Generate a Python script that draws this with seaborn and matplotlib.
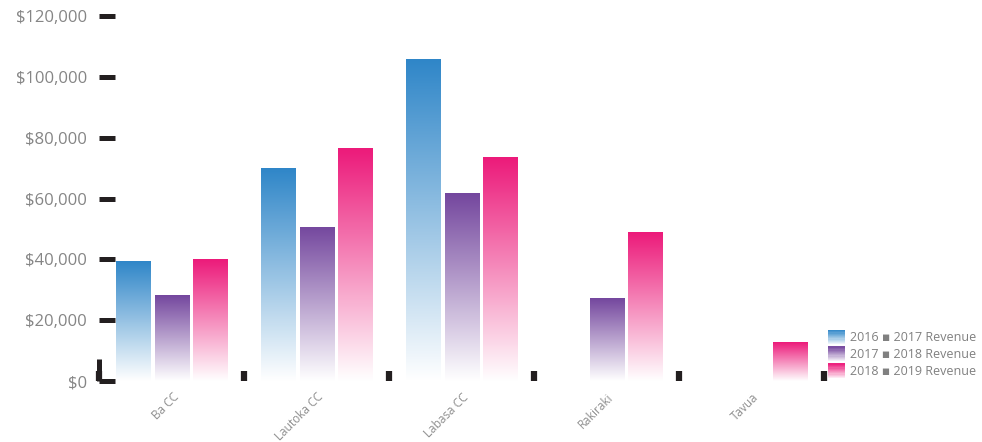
import numpy as np
import pandas as pd
import matplotlib
matplotlib.use("Agg")
import matplotlib.pyplot as plt
import seaborn as sns
from matplotlib.colors import LinearSegmentedColormap, to_rgb
from matplotlib.legend_handler import HandlerBase
from matplotlib.patches import Rectangle
from matplotlib.ticker import FuncFormatter

#Data
centres = ['Ba CC', 'Lautoka CC', 'Labasa CC', 'Rakiraki', 'Tavua']
rev_2016_17 = [39500, 70000, 106000, 0, 0]
rev_2017_18 = [28300, 50700, 61800, 27300, 0]
rev_2018_19 = [40100, 76600, 73700, 49000, 12800]
periods = ['2016 \u25aa 2017 Revenue', '2017 \u25aa 2018 Revenue', '2018 \u25aa 2019 Revenue']
colours = ['#2f86c8', '#74479e', '#ec1a7a']

df = pd.DataFrame({
    'centre': centres * 3,
    'period': [periods[0]] * 5 + [periods[1]] * 5 + [periods[2]] * 5,
    'revenue': rev_2016_17 + rev_2017_18 + rev_2018_19,
})

sns.set_theme(style='white')
plt.rcParams['font.family'] = ['Open Sans', 'DejaVu Sans']

fig = plt.figure(figsize=(9.82, 4.42), dpi=100)
ax = fig.add_axes([0.1013, 0.138, 0.7383, 0.8247])

sns.barplot(data=df, x='centre', y='revenue', hue='period', hue_order=periods,
            palette=colours, width=0.8, gap=0.1, ax=ax, legend=False)

#Gradient fill: full colour at the top fading to white at the bottom
cmaps = [LinearSegmentedColormap.from_list('g%d' % i, ['#ffffff', c]) for i, c in enumerate(colours)]
grad = np.linspace(0.02, 1, 256).reshape(-1, 1)
for i, container in enumerate(ax.containers):
    for bar in container:
        h = bar.get_height()
        if not h:
            continue
        x0 = bar.get_x()
        w = bar.get_width()
        im = ax.imshow(grad, cmap=cmaps[i], aspect='auto', origin='lower',
                       extent=[x0, x0 + w, 0, h], zorder=2, interpolation='bilinear')
        im.set_clip_path(bar)
        bar.set_facecolor('none')
        bar.set_edgecolor('none')

ax.set_xlim(-0.5, 4.5)
ax.set_ylim(0, 120000)
ax.set_yticks(np.arange(0, 120001, 20000))
ax.yaxis.set_major_formatter(FuncFormatter(lambda v, p: '${:,.0f}'.format(v)))
for s in ax.spines.values():
    s.set_visible(False)

ax.tick_params(axis='y', direction='in', length=11.5, width=3.6, color='#231f20',
               labelsize=12, labelcolor='#858585', pad=9, left=True)
ax.tick_params(axis='x', which='major', length=0, labelsize=8.5, labelcolor='#8f8f8f', pad=7)
ax.set_xticks(np.arange(-0.5, 5, 1), minor=True)
ax.tick_params(axis='x', which='minor', direction='in', length=7.5, width=4.5,
               color='#231f20', bottom=True)
for lab in ax.get_xticklabels():
    lab.set_rotation(45)
    lab.set_ha('right')
    lab.set_rotation_mode('anchor')
for t in ax.yaxis.get_major_ticks():
    t.tick1line.set_clip_on(False)
ax.axvline(-0.5, 0, 0.06, lw=3.6, color='#231f20', clip_on=False, solid_capstyle='butt')
ax.set_xlabel('')
ax.set_ylabel('')


class GradientHandler(HandlerBase):
    def create_artists(self, legend, orig_handle, xdescent, ydescent, width, height, fontsize, trans):
        top = np.array(to_rgb(orig_handle.get_facecolor()))
        artists = []
        n = 12
        for k in range(n):
            f = (k + 0.5) / n
            c = 1 - (1 - top) * (0.05 + 0.95 * f)
            r = Rectangle((-xdescent, -ydescent + height * k / n), width, height / n + 0.3,
                          facecolor=c, edgecolor='none', transform=trans)
            artists.append(r)
        return artists


handles = [Rectangle((0, 0), 1, 1, facecolor=c) for c in colours]
leg = fig.legend(handles, periods, loc='lower right', bbox_to_anchor=(1.0, 0.13),
                 frameon=False, fontsize=9, handler_map={Rectangle: GradientHandler()},
                 handlelength=1.3, handleheight=1.4, handletextpad=0.4, labelspacing=0.2,
                 borderaxespad=0.1)
for t in leg.get_texts():
    t.set_color('#808080')

plt.savefig('out.png', dpi=100)
